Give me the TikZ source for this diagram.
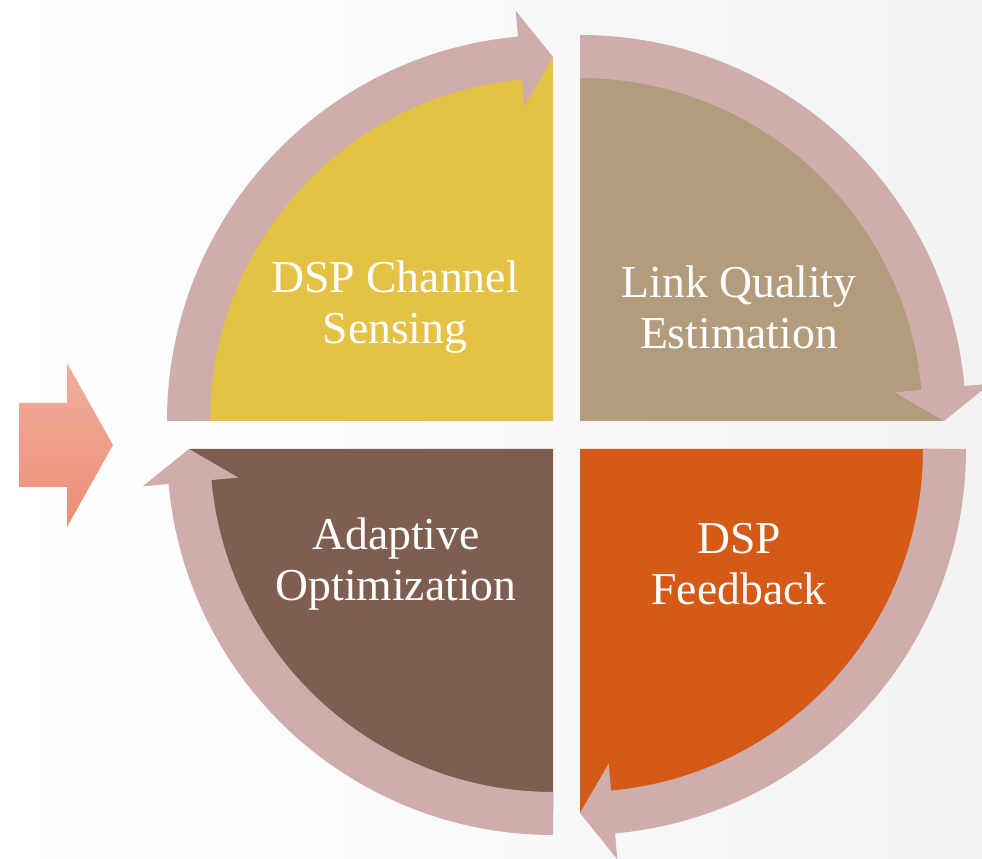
\documentclass[tikz,border=0pt]{standalone}
\usepackage{fontspec}
\setmainfont{Liberation Serif}
\usepackage{tikz}

\definecolor{arrowpink}{HTML}{CFADAB}
\definecolor{sensefill}{HTML}{E3C246}
\definecolor{qualfill}{HTML}{B39C7E}
\definecolor{feedfill}{HTML}{D55917}
\definecolor{optfill}{HTML}{7D5E51}
\definecolor{inlight}{HTML}{F2AE9E}
\definecolor{indark}{HTML}{EC8D76}

% curved arrow round one quarter: start angle, head base angle, tip angle
\newcommand{\quarterarrow}[3]{%
  \fill[arrowpink] (#1:386) arc[start angle=#1, end angle=#2, radius=386]
    -- (#2:412) -- (#3:364) -- (#2:316) -- (#2:343)
    arc[start angle=#2, end angle=#1, radius=343] -- cycle;}

\begin{document}
\begin{tikzpicture}[x=0.02cm, y=0.02cm,
    label/.style={text=white, align=center, font=\fontsize{26}{29}\selectfont}]
  % background
  \useasboundingbox (0,0) rectangle (982,858);
  \shade[left color=white, right color=gray!10] (0,0) rectangle (982,858);

  % quarter corners
  \coordinate (Y) at (553,437);
  \coordinate (T) at (580,437);
  \coordinate (O) at (580,409);
  \coordinate (B) at (553,409);

  % quarters
  \fill[sensefill] (Y) -- ++(180:364) arc[start angle=180, end angle=90, radius=364] -- cycle;
  \fill[qualfill] (T) -- ++(90:364) arc[start angle=90, end angle=0, radius=364] -- cycle;
  \fill[feedfill] (O) -- ++(0:364) arc[start angle=0, end angle=-90, radius=364] -- cycle;
  \fill[optfill] (B) -- ++(270:364) arc[start angle=270, end angle=180, radius=364] -- cycle;

  % cycle arrows
  \begin{scope}[shift={(Y)}] \quarterarrow{180}{95.2}{90} \end{scope}
  \begin{scope}[shift={(T)}] \quarterarrow{90}{5.2}{0} \end{scope}
  \begin{scope}[shift={(O)}] \quarterarrow{0}{-84.8}{-90} \end{scope}
  \begin{scope}[shift={(B)}] \quarterarrow{270}{185.2}{180} \end{scope}

  % labels
  \node[label] (sensing) at (395,551) {DSP Channel\\Sensing};
  \node[label] (quality) at (739,551) {Link Quality\\Estimation};
  \node[label] (feedback) at (739,294) {DSP\\Feedback};
  \node[label] (optimize) at (396,294) {Adaptive\\Optimization};

  % input arrow
  \shade[top color=inlight, bottom color=indark]
    (19,371) -- (19,455) -- (67,455) -- (67,495) -- (113,413)
    -- (67,331) -- (67,371) -- cycle;
\end{tikzpicture}
\end{document}
